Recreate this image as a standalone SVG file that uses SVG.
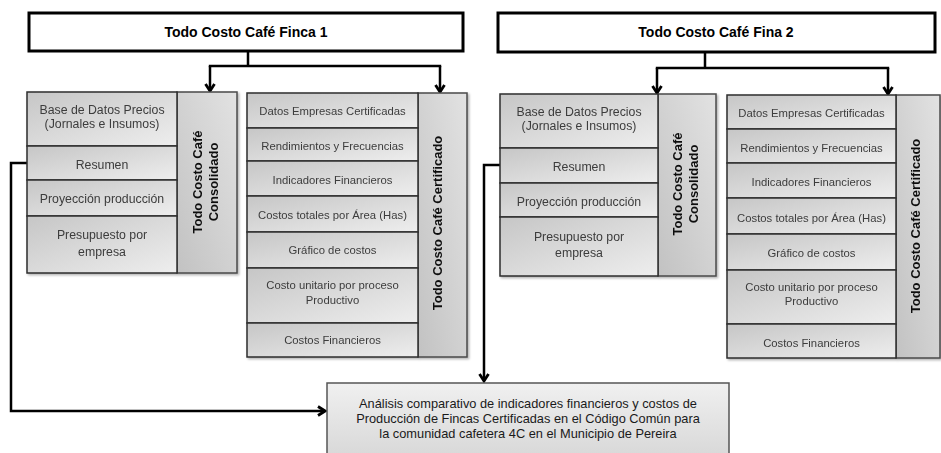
<svg xmlns="http://www.w3.org/2000/svg" width="941" height="453" viewBox="0 0 941 453">
<defs>
<linearGradient id="gRow" x1="0" y1="0" x2="1" y2="1">
<stop offset="0" stop-color="#c6c6c6"/>
<stop offset="1" stop-color="#eeeeee"/>
</linearGradient>
<linearGradient id="gCol" x1="1" y1="0" x2="0" y2="1">
<stop offset="0" stop-color="#e2e2e2"/>
<stop offset="1" stop-color="#c2c2c2"/>
</linearGradient>
<linearGradient id="gBot" x1="0" y1="0" x2="0" y2="1">
<stop offset="0" stop-color="#f0f0f0"/>
<stop offset="1" stop-color="#d6d6d6"/>
</linearGradient>
<filter id="sh" x="-5%" y="-5%" width="110%" height="110%">
<feDropShadow dx="1.5" dy="1.5" stdDeviation="1" flood-color="#000" flood-opacity="0.3"/>
</filter>
<marker id="arr" markerWidth="12" markerHeight="12" viewBox="0 0 12 12" refX="10" refY="6" orient="auto" markerUnits="userSpaceOnUse">
<path d="M3,1.5 L10,6 L3,10.5" fill="none" stroke="#000" stroke-width="2.8"/>
</marker>
</defs>
<style>
.title{fill:#fff;stroke:#000;stroke-width:3}
.tt{font-family:"Liberation Sans",Arial,sans-serif;font-size:14px;font-weight:bold;fill:#000;text-anchor:middle}
.row{fill:url(#gRow);stroke:#2e2e2e;stroke-width:1.5}
.col{fill:url(#gCol);stroke:#4a4a4a;stroke-width:1.5}
.rtL{font-family:"Liberation Sans",Arial,sans-serif;font-size:12.3px;fill:#3c3c3c;text-anchor:middle}
.rtR{font-family:"Liberation Sans",Arial,sans-serif;font-size:11.3px;fill:#3c3c3c;text-anchor:middle}
.ct{font-family:"Liberation Sans",Arial,sans-serif;font-size:13px;font-weight:bold;fill:#111;text-anchor:middle}
.bot{fill:url(#gBot);stroke:#555;stroke-width:1.5}
.bt{font-family:"Liberation Sans",Arial,sans-serif;font-size:12.8px;fill:#1a1a1a;text-anchor:middle}
.cn{fill:none;stroke:#000;stroke-width:2.5}
</style>

<g id="connectors">
<path class="cn" d="M248,51 V66 M208.8,66 H441.2"/>
<path class="cn" d="M210,66 V91" marker-end="url(#arr)"/>
<path class="cn" d="M440,66 V92" marker-end="url(#arr)"/>
<path class="cn" d="M705,52 V68 M655.8,68 H889.2"/>
<path class="cn" d="M657,68 V93" marker-end="url(#arr)"/>
<path class="cn" d="M888,68 V94" marker-end="url(#arr)"/>
<path class="cn" d="M27,163 H11 V411 H325" marker-end="url(#arr)"/>
<path class="cn" d="M500,165 H484 V381" marker-end="url(#arr)"/>
</g>

<g id="title1">
<rect class="title" x="29" y="13" width="434" height="38"/>
<text class="tt" x="246" y="37">Todo Costo Café Finca 1</text>
</g>
<g id="title2">
<rect class="title" x="498" y="13" width="437" height="39"/>
<text class="tt" x="716" y="37">Todo Costo Café Fina 2</text>
</g>

<g id="consolidado1" filter="url(#sh)">
<rect class="col" x="177" y="92" width="60" height="181"/>
<rect class="row" x="27" y="92" width="150" height="54"/>
<rect class="row" x="27" y="146" width="150" height="34"/>
<rect class="row" x="27" y="180" width="150" height="36"/>
<rect class="row" x="27" y="216" width="150" height="57"/>
<text class="rtL" x="102" y="114">Base de Datos Precios</text>
<text class="rtL" x="102" y="128">(Jornales e Insumos)</text>
<text class="rtL" x="102" y="169">Resumen</text>
<text class="rtL" x="102" y="203">Proyección producción</text>
<text class="rtL" x="102" y="239">Presupuesto por</text>
<text class="rtL" x="102" y="256">empresa</text>
<g transform="translate(205,182) rotate(-90)">
<text class="ct" x="0" y="-3.5">Todo Costo Café</text>
<text class="ct" x="0" y="12.5">Consolidado</text>
</g>
</g>

<g id="certificado1" filter="url(#sh)">
<rect class="col" x="418" y="93" width="49" height="264"/>
<rect class="row" x="247" y="93" width="171" height="35"/>
<rect class="row" x="247" y="128" width="171" height="33"/>
<rect class="row" x="247" y="161" width="171" height="35"/>
<rect class="row" x="247" y="196" width="171" height="36"/>
<rect class="row" x="247" y="232" width="171" height="36"/>
<rect class="row" x="247" y="268" width="171" height="55"/>
<rect class="row" x="247" y="323" width="171" height="34"/>
<text class="rtR" x="332.5" y="115">Datos Empresas Certificadas</text>
<text class="rtR" x="332.5" y="150">Rendimientos y Frecuencias</text>
<text class="rtR" x="332.5" y="184">Indicadores Financieros</text>
<text class="rtR" x="332.5" y="219">Costos totales por Área (Has)</text>
<text class="rtR" x="332.5" y="254">Gráfico de costos</text>
<text class="rtR" x="332.5" y="289">Costo unitario por proceso</text>
<text class="rtR" x="332.5" y="304">Productivo</text>
<text class="rtR" x="332.5" y="344">Costos Financieros</text>
<g transform="translate(437,223) rotate(-90)">
<text class="ct" x="0" y="4.5">Todo Costo Café Certificado</text>
</g>
</g>

<g id="consolidado2" filter="url(#sh)">
<rect class="col" x="658" y="94" width="58" height="182"/>
<rect class="row" x="500" y="94" width="158" height="54"/>
<rect class="row" x="500" y="148" width="158" height="35"/>
<rect class="row" x="500" y="183" width="158" height="34"/>
<rect class="row" x="500" y="217" width="158" height="59"/>
<text class="rtL" x="579" y="116">Base de Datos Precios</text>
<text class="rtL" x="579" y="130">(Jornales e Insumos)</text>
<text class="rtL" x="579" y="171">Resumen</text>
<text class="rtL" x="579" y="206">Proyección producción</text>
<text class="rtL" x="579" y="241">Presupuesto por</text>
<text class="rtL" x="579" y="257">empresa</text>
<g transform="translate(685,184) rotate(-90)">
<text class="ct" x="0" y="-3.5">Todo Costo Café</text>
<text class="ct" x="0" y="12.5">Consolidado</text>
</g>
</g>

<g id="certificado2" filter="url(#sh)">
<rect class="col" x="896" y="95" width="44" height="263"/>
<rect class="row" x="727" y="95" width="169" height="34"/>
<rect class="row" x="727" y="129" width="169" height="34"/>
<rect class="row" x="727" y="163" width="169" height="35"/>
<rect class="row" x="727" y="198" width="169" height="36"/>
<rect class="row" x="727" y="234" width="169" height="36"/>
<rect class="row" x="727" y="270" width="169" height="54"/>
<rect class="row" x="727" y="324" width="169" height="34"/>
<text class="rtR" x="811.5" y="117">Datos Empresas Certificadas</text>
<text class="rtR" x="811.5" y="152">Rendimientos y Frecuencias</text>
<text class="rtR" x="811.5" y="186">Indicadores Financieros</text>
<text class="rtR" x="811.5" y="222">Costos totales por Área (Has)</text>
<text class="rtR" x="811.5" y="257">Gráfico de costos</text>
<text class="rtR" x="811.5" y="291">Costo unitario por proceso</text>
<text class="rtR" x="811.5" y="305">Productivo</text>
<text class="rtR" x="811.5" y="347">Costos Financieros</text>
<g transform="translate(915,226) rotate(-90)">
<text class="ct" x="0" y="4.5">Todo Costo Café Certificado</text>
</g>
</g>

<g id="analisis">
<rect class="bot" x="327" y="383" width="402" height="80"/>
<text class="bt" x="528" y="408">Análisis comparativo de indicadores financieros y costos de</text>
<text class="bt" x="528" y="423">Producción de Fincas Certificadas en el Código Común para</text>
<text class="bt" x="528" y="438">la comunidad cafetera 4C en el Municipio de Pereira</text>
</g>
</svg>
